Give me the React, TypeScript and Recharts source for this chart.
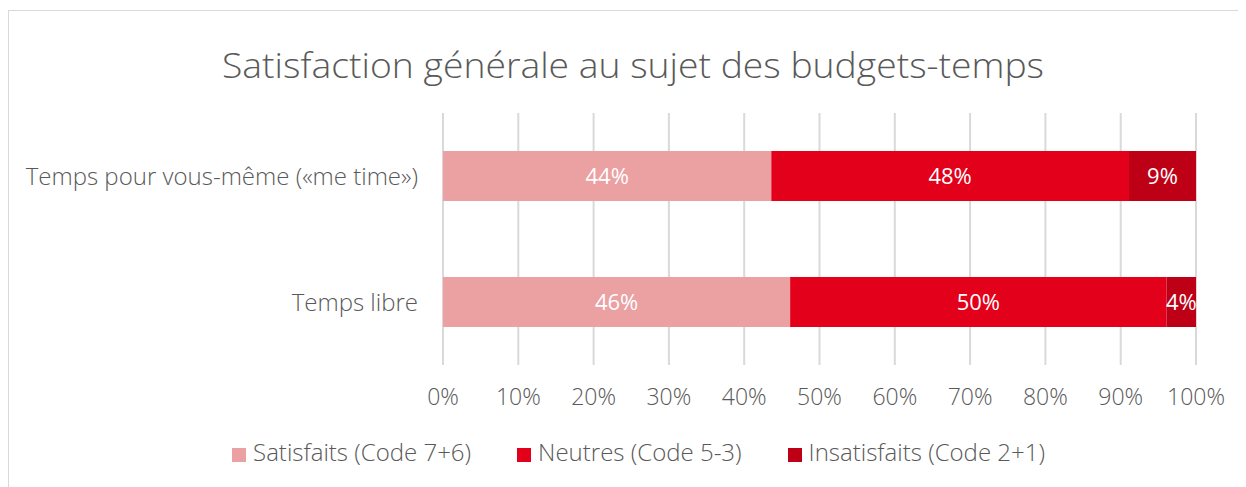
import React from 'react';
import { BarChart, Bar, XAxis, YAxis, CartesianGrid, Legend, LabelList } from 'recharts';

const categories = ['Temps pour vous-même («me time»)', 'Temps libre'];
const satisfaits = [43.6, 46.1];
const neutres = [47.5, 50.0];
const insatisfaits = [8.9, 3.9];
const xTicks = [0, 10, 20, 30, 40, 50, 60, 70, 80, 90, 100];

const seriesNames = {
  satisfaits: 'Satisfaits (Code 7+6)',
  neutres: 'Neutres (Code 5-3)',
  insatisfaits: 'Insatisfaits (Code 2+1)',
};
const seriesOrder = ['satisfaits', 'neutres', 'insatisfaits'];

const colors = {
  satisfaits: '#EBA0A2',
  neutres: '#E2001A',
  insatisfaits: '#BE0016',
};

const FONT = '"Open Sans", sans-serif';
const GREY = '#595959';

const data = categories.map((name, i) => ({
  name,
  satisfaits: satisfaits[i],
  neutres: neutres[i],
  insatisfaits: insatisfaits[i],
}));

const pct = (v: any) => `${Math.round(Number(v))}%`;

export default function App() {
  const labelStyle = { fill: '#fff', fontSize: 22, fontFamily: FONT };
  return (
    <div style={{ paddingTop: 2 }}>
      <div
        style={{
          position: 'relative',
          width: 1237,
          height: 476,
          borderTop: '1px solid #d9d9d9',
          borderLeft: '1px solid #d9d9d9',
          fontFamily: FONT,
        }}
      >
        <svg width={1237} height={90} style={{ position: 'absolute', left: 0, top: 0 }}>
          <text
            x={624}
            y={67}
            textAnchor="middle"
            fontSize={35}
            fontWeight={300}
            fill={GREY}
            textLength={822}
            lengthAdjust="spacingAndGlyphs"
            fontFamily={FONT}
          >
            Satisfaction générale au sujet des budgets-temps
          </text>
        </svg>
        <BarChart
          width={1237}
          height={476}
          data={data}
          layout="vertical"
          barSize={50}
          margin={{ top: 102, right: 50, left: 0, bottom: 49 }}
        >
          <CartesianGrid horizontal={false} stroke="#d9d9d9" strokeWidth={2} />
          <XAxis
            type="number"
            domain={[0, 100]}
            ticks={xTicks}
            tickFormatter={(v) => `${v}%`}
            axisLine={false}
            tickLine={false}
            tickSize={0}
            tickMargin={24}
            height={40}
            interval={0}
            tick={{ fill: GREY, fontSize: 23, fontFamily: FONT, fontWeight: 300 }}
          />
          <YAxis
            type="category"
            dataKey="name"
            width={434}
            axisLine={false}
            tickLine={false}
            tickSize={0}
            tickMargin={25}
            tick={{ fill: GREY, fontSize: 24, fontFamily: FONT, fontWeight: 300 }}
          />
          <Legend
            iconType="square"
            iconSize={14}
            verticalAlign="bottom"
            itemSorter={(item: any) => seriesOrder.indexOf(String(item.dataKey))}
            wrapperStyle={{ top: 424, left: 34, width: 1237, fontSize: 24, fontFamily: FONT, fontWeight: 300 }}
            formatter={(value) => (
              <span style={{ color: GREY, paddingLeft: 3, paddingRight: 36 }}>{value}</span>
            )}
          />
          <Bar dataKey="satisfaits" name={seriesNames.satisfaits} stackId="a" fill={colors.satisfaits} isAnimationActive={false}>
            <LabelList dataKey="satisfaits" position="center" formatter={pct} style={labelStyle} />
          </Bar>
          <Bar dataKey="neutres" name={seriesNames.neutres} stackId="a" fill={colors.neutres} isAnimationActive={false}>
            <LabelList dataKey="neutres" position="center" formatter={pct} style={labelStyle} />
          </Bar>
          <Bar dataKey="insatisfaits" name={seriesNames.insatisfaits} stackId="a" fill={colors.insatisfaits} isAnimationActive={false}>
            <LabelList dataKey="insatisfaits" position="center" formatter={pct} style={labelStyle} />
          </Bar>
        </BarChart>
      </div>
    </div>
  );
}
